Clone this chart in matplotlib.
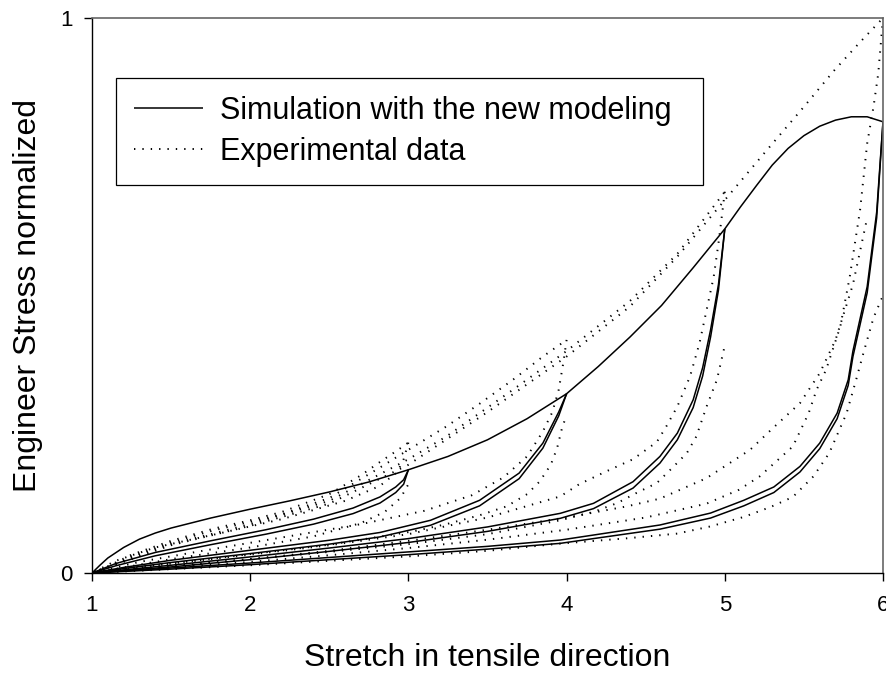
import matplotlib.pyplot as plt

plt.rcParams["font.family"] = ["Liberation Sans", "DejaVu Sans"]

# --- simulation (solid) ---
sim_load_x = [1.0, 1.05, 1.1, 1.2, 1.3, 1.4, 1.5, 1.75, 2.0, 2.25, 2.5, 2.75, 3.0, 3.25, 3.5,
              3.75, 4.0, 4.2, 4.4, 4.6, 4.8, 5.0, 5.1, 5.2, 5.3, 5.4, 5.5, 5.6, 5.7, 5.8,
              5.9, 6.0]
sim_load_y = [0.0, 0.014, 0.027, 0.046, 0.061, 0.072, 0.081, 0.099, 0.115, 0.13, 0.146, 0.164,
              0.186, 0.21, 0.24, 0.278, 0.323, 0.372, 0.425, 0.482, 0.55, 0.62, 0.66, 0.698,
              0.735, 0.765, 0.788, 0.805, 0.816, 0.822, 0.822, 0.813]

sim3_x = [1.0, 1.15, 1.4, 1.75, 2.1, 2.4, 2.65, 2.82, 2.92, 2.97, 3.0]
sim3a_y = [0.0, 0.017, 0.037, 0.058, 0.078, 0.097, 0.117, 0.137, 0.155, 0.168, 0.186]
sim3b_y = [0.0, 0.013, 0.031, 0.051, 0.07, 0.088, 0.107, 0.126, 0.145, 0.16, 0.186]

sim4_x = [1.0, 1.2, 1.5, 2.0, 2.5, 2.82, 3.14, 3.45, 3.7, 3.85, 3.95, 4.0]
sim4a_y = [0.0, 0.01, 0.023, 0.041, 0.059, 0.073, 0.095, 0.131, 0.18, 0.234, 0.29, 0.323]
sim4b_y = [0.0, 0.008, 0.019, 0.035, 0.052, 0.065, 0.086, 0.121, 0.17, 0.225, 0.283, 0.323]

sim5_x = [1.0, 1.5, 2.0, 2.5, 3.0, 3.5, 3.96, 4.17, 4.42, 4.59, 4.7, 4.8, 4.86, 4.91, 4.96, 5.0]
sim5a_y = [0.0, 0.014, 0.029, 0.045, 0.062, 0.083, 0.1075, 0.1255, 0.1645, 0.21, 0.252, 0.312,
           0.37, 0.438, 0.52, 0.62]
sim5b_y = [0.0, 0.011, 0.024, 0.039, 0.055, 0.075, 0.0985, 0.116, 0.153, 0.198, 0.24, 0.298,
           0.355, 0.425, 0.51, 0.62]

sim6_x = [1.0, 1.5, 2.0, 2.5, 3.0, 3.5, 3.96, 4.17, 4.59, 4.91, 5.12, 5.31, 5.475, 5.6, 5.71,
          5.78, 5.81, 5.9, 5.96, 6.0]
sim6a_y = [0.0, 0.009, 0.018, 0.028, 0.038, 0.048, 0.0594, 0.0684, 0.0865, 0.108, 0.131, 0.155,
           0.192, 0.234, 0.288, 0.348, 0.40, 0.516, 0.65, 0.813]
sim6b_y = [0.0, 0.007, 0.015, 0.024, 0.033, 0.043, 0.0534, 0.062, 0.079, 0.099, 0.121, 0.145,
           0.182, 0.224, 0.278, 0.338, 0.39, 0.505, 0.64, 0.813]

# --- experimental (dotted) ---
exp3_load_x = [1.0, 1.1, 1.25, 1.5, 1.77, 2.0, 2.2, 2.5, 2.7, 2.82, 2.93, 3.0]
exp3_load_y = [0.0, 0.012, 0.033, 0.058, 0.08, 0.095, 0.11, 0.142, 0.176, 0.2, 0.221, 0.235]
exp3_unload_x = [3.0, 2.97, 2.93, 2.82, 2.6, 2.2, 1.8, 1.4, 1.15, 1.0]
exp3_unload_y = [0.235, 0.205, 0.182, 0.157, 0.13, 0.097, 0.071, 0.046, 0.022, 0.0]
exp3_reload_x = [1.0, 1.2, 1.5, 2.0, 2.4, 2.7, 2.85, 2.95, 3.0]
exp3_reload_y = [0.0, 0.01, 0.025, 0.046, 0.066, 0.09, 0.11, 0.135, 0.16]

exp4_load_x = [1.0, 1.1, 1.25, 1.5, 1.77, 2.0, 2.2, 2.5, 2.82, 3.0, 3.24, 3.45, 3.66, 3.85, 4.0]
exp4_load_y = [0.0, 0.01, 0.03, 0.055, 0.077, 0.092, 0.106, 0.135, 0.19, 0.222, 0.264, 0.305,
               0.348, 0.39, 0.42]
exp4_unload_x = [4.0, 3.98, 3.95, 3.91, 3.85, 3.75, 3.6, 3.4, 3.1, 2.7, 2.2, 1.7, 1.3, 1.0]
exp4_unload_y = [0.42, 0.38, 0.33, 0.29, 0.255, 0.21, 0.172, 0.14, 0.112, 0.088, 0.064, 0.04,
                 0.02, 0.0]
exp4_reload_x = [1.0, 1.5, 2.0, 2.5, 3.03, 3.24, 3.45, 3.62, 3.75, 3.83, 3.9, 3.94, 3.97, 4.0]
exp4_reload_y = [0.0, 0.017, 0.034, 0.051, 0.075, 0.088, 0.104, 0.12, 0.142, 0.165, 0.195,
                 0.225, 0.26, 0.285]

exp5_load_x = [1.0, 1.25, 1.5, 2.0, 2.5, 3.0, 3.24, 3.66, 4.0, 4.4, 4.7, 5.0]
exp5_load_y = [0.0, 0.028, 0.052, 0.088, 0.13, 0.205, 0.246, 0.33, 0.40, 0.49, 0.575, 0.687]
exp5_unload_x = [5.0, 4.98, 4.96, 4.93, 4.885, 4.84, 4.78, 4.70, 4.63, 4.57, 4.42, 4.25, 4.08,
                 3.96, 3.5, 3.0, 2.5, 2.0, 1.5, 1.0]
exp5_unload_y = [0.687, 0.64, 0.594, 0.534, 0.474, 0.414, 0.354, 0.30, 0.264, 0.236, 0.205,
                 0.183, 0.16, 0.138, 0.1, 0.07, 0.05, 0.033, 0.017, 0.0]
exp5_reload_x = [1.0, 1.5, 2.0, 2.5, 3.0, 3.5, 3.96, 4.17, 4.32, 4.44, 4.57, 4.67, 4.76, 4.82,
                 4.885, 4.95, 5.0]
exp5_reload_y = [0.0, 0.012, 0.025, 0.038, 0.052, 0.07, 0.095, 0.11, 0.126, 0.144, 0.162, 0.19,
                 0.216, 0.246, 0.30, 0.348, 0.41]

exp6_load_x = [1.0, 1.25, 1.5, 2.0, 2.5, 3.0, 3.5, 4.0, 4.4, 4.7, 5.0, 5.26, 5.5, 5.69, 5.85, 6.0]
exp6_load_y = [0.0, 0.025, 0.05, 0.085, 0.125, 0.195, 0.29, 0.39, 0.48, 0.57, 0.672, 0.76, 0.84,
               0.905, 0.955, 1.0]
exp6_unload_x = [6.0, 5.985, 5.97, 5.94, 5.9, 5.855, 5.79, 5.73, 5.64, 5.58, 5.53, 5.43, 5.22,
                 5.09, 4.885, 4.5, 4.0, 3.5, 3.0, 2.5, 2.0, 1.5, 1.0]
exp6_unload_y = [1.0, 0.95, 0.9, 0.84, 0.774, 0.654, 0.534, 0.444, 0.366, 0.33, 0.288, 0.228,
                 0.174, 0.15, 0.125, 0.1, 0.078, 0.06, 0.045, 0.032, 0.02, 0.01, 0.0]
exp6_reload_x = [1.0, 1.5, 2.0, 2.5, 3.0, 3.5, 4.0, 4.38, 4.59, 4.885, 5.16, 5.3, 5.475, 5.6,
                 5.7, 5.81, 5.9]
exp6_reload_y = [0.0, 0.012, 0.025, 0.04, 0.058, 0.078, 0.1, 0.12, 0.134, 0.171, 0.222, 0.26,
                 0.306, 0.36, 0.42, 0.52, 0.64]
exp6_second_x = [1.0, 1.5, 2.0, 2.5, 3.0, 3.5, 3.96, 4.38, 4.70, 4.91, 5.12, 5.29, 5.43, 5.56,
                 5.66, 5.77, 5.83, 5.876, 5.94, 6.0]
exp6_second_y = [0.0, 0.007, 0.014, 0.022, 0.03, 0.04, 0.053, 0.0625, 0.071, 0.084, 0.101, 0.119,
                 0.137, 0.174, 0.216, 0.288, 0.348, 0.396, 0.46, 0.50]

x_ticks = [1, 2, 3, 4, 5, 6]
y_ticks = [0, 1]


def main() -> None:
    fig = plt.figure(figsize=(8.87, 6.73), dpi=100)
    ax = fig.add_axes([92 / 887, 1 - 573 / 673, 791 / 887, 555 / 673])

    solid = dict(color="black", lw=1.1, solid_capstyle="butt")
    dotted = dict(color="black", lw=1.4, linestyle=(0, (0.7, 3.6)))

    ax.plot(sim_load_x, sim_load_y, label="Simulation with the new modeling", **solid)
    for x, ys in [(sim3_x, (sim3a_y, sim3b_y)), (sim4_x, (sim4a_y, sim4b_y)),
                  (sim5_x, (sim5a_y, sim5b_y)), (sim6_x, (sim6a_y, sim6b_y))]:
        for y in ys:
            ax.plot(x, y, **solid)

    exp_curves = [
        (exp3_load_x, exp3_load_y), (exp3_unload_x, exp3_unload_y),
        (exp3_reload_x, exp3_reload_y),
        (exp4_load_x, exp4_load_y), (exp4_unload_x, exp4_unload_y),
        (exp4_reload_x, exp4_reload_y),
        (exp5_load_x, exp5_load_y), (exp5_unload_x, exp5_unload_y),
        (exp5_reload_x, exp5_reload_y),
        (exp6_load_x, exp6_load_y), (exp6_unload_x, exp6_unload_y),
        (exp6_reload_x, exp6_reload_y), (exp6_second_x, exp6_second_y),
    ]
    for i, (x, y) in enumerate(exp_curves):
        ax.plot(x, y, label="Experimental data" if i == 0 else None, **dotted)

    ax.set_xlim(1, 6)
    ax.set_ylim(0, 1)
    ax.set_xticks(x_ticks)
    ax.set_yticks(y_ticks)
    ax.tick_params(direction="out", length=6, width=1, labelsize=16, color="black")
    ax.tick_params(axis="x", pad=10)
    ax.tick_params(axis="y", pad=8)
    for side in ("left", "bottom"):
        ax.spines[side].set_color("black")
        ax.spines[side].set_linewidth(1)
    for side in ("top", "right"):
        ax.spines[side].set_color("#666666")
        ax.spines[side].set_linewidth(1.2)

    ax.set_xlabel("Stretch in tensile direction", fontsize=23)
    ax.set_ylabel("Engineer Stress normalized", fontsize=23)
    ax.xaxis.set_label_coords(0.5, -0.126)
    ax.yaxis.set_label_coords(-0.062, 0.5)

    leg = ax.legend(
        loc="upper left",
        bbox_to_anchor=(0.030, 0.7005, 0.742, 0.192),
        mode="expand",
        borderaxespad=0,
        fontsize=22,
        frameon=True,
        fancybox=False,
        framealpha=1,
        edgecolor="black",
        handlelength=2.26,
        handletextpad=0.55,
        labelspacing=0.35,
        borderpad=0.6,
    )
    leg.get_frame().set_linewidth(0.9)

    fig.savefig("out.png", dpi=100)


if __name__ == "__main__":
    main()
